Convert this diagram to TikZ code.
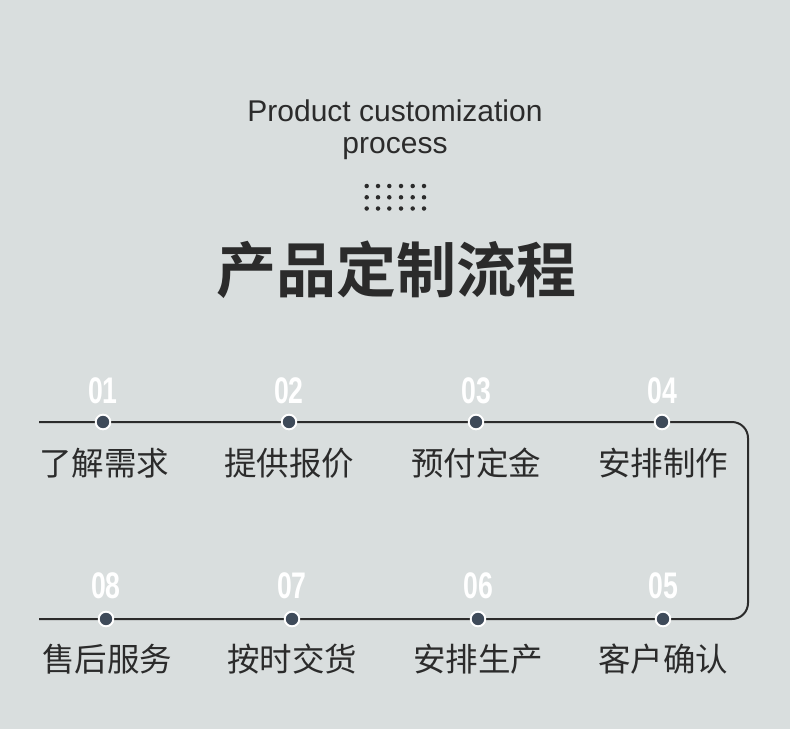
\documentclass[tikz,border=0pt]{standalone}
\usepackage{fontspec}
\setmainfont{Liberation Sans}
\newfontfamily\cjk{Noto Sans CJK SC}
\newfontfamily\cjkb{Noto Sans CJK SC Bold}
\definecolor{bgc}{HTML}{D9DEDE}
\definecolor{ink}{HTML}{2B2B2B}
\definecolor{dotc}{HTML}{3E4A59}
\begin{document}
\begin{tikzpicture}[x=1pt,y=-1pt,
  stepdot/.style={circle,fill=dotc,draw=white,line width=1.8pt,minimum size=14.5pt,inner sep=0pt},
  numlbl/.style={text=white,inner sep=0pt,font=\fontsize{37}{37}\selectfont\bfseries},
  steplbl/.style={text=ink,inner sep=0pt,font=\cjk\fontsize{32.5}{32.5}\selectfont},
  gdot/.style={circle,fill=ink,inner sep=0pt,minimum size=4.5pt},
  flow/.style={draw=ink,line width=2pt,rounded corners=16pt}]
\fill[bgc] (0,0) rectangle (790,729);
\useasboundingbox (0,0) rectangle (790,729);
% headings
\node[text=ink,inner sep=0pt,align=center,font=\fontsize{30}{31.5}\selectfont] (en) at (395,129.5) {Product customization\\process};
\foreach \i/\x in {1/366.7,2/378,3/389.3,4/401,5/412.7,6/424}{
  \foreach \j/\y in {1/186,2/197.3,3/208.5}{
    \node[gdot] (g\i\j) at (\x,\y) {};
  }
}
\node[text=ink,inner sep=0pt,font=\cjkb\fontsize{60}{60}\selectfont] (title) at (396,270) {产品定制流程};
% flow line
\coordinate (s1) at (39,422);
\coordinate (s2) at (39,619);
\coordinate (c1) at (748,422);
\coordinate (c2) at (748,619);
\node[stepdot] (d1) at (103,422) {};
\node[stepdot] (d2) at (289,422) {};
\node[stepdot] (d3) at (476,422) {};
\node[stepdot] (d4) at (662,422) {};
\node[stepdot] (d5) at (663,619) {};
\node[stepdot] (d6) at (478,619) {};
\node[stepdot] (d7) at (292,619) {};
\node[stepdot] (d8) at (106,619) {};
\draw[flow] (s1) -- (d1.center) -- (d2.center) -- (d3.center) -- (d4.center) -- (c1) -- (c2) -- (d5.center) -- (d6.center) -- (d7.center) -- (d8.center) -- (s2);
\foreach \x/\y in {103/422,289/422,476/422,662/422,663/619,478/619,292/619,106/619}{
  \node[stepdot] at (\x,\y) {};
}
% numbers
\node[numlbl] (n1) at (103,391) {\scalebox{0.72}[1]{01}};
\node[numlbl] (n2) at (289,391) {\scalebox{0.72}[1]{02}};
\node[numlbl] (n3) at (476,391) {\scalebox{0.72}[1]{03}};
\node[numlbl] (n4) at (662,391) {\scalebox{0.72}[1]{04}};
\node[numlbl] (n5) at (663,586) {\scalebox{0.72}[1]{05}};
\node[numlbl] (n6) at (478,586) {\scalebox{0.72}[1]{06}};
\node[numlbl] (n7) at (292,586) {\scalebox{0.72}[1]{07}};
\node[numlbl] (n8) at (106,586) {\scalebox{0.72}[1]{08}};
% labels
\node[steplbl] (l1) at (104,463) {了解需求};
\node[steplbl] (l2) at (289,463) {提供报价};
\node[steplbl] (l3) at (476,463) {预付定金};
\node[steplbl] (l4) at (663,463) {安排制作};
\node[steplbl] (l5) at (663,659) {客户确认};
\node[steplbl] (l6) at (478,659) {安排生产};
\node[steplbl] (l7) at (292,659) {按时交货};
\node[steplbl] (l8) at (107,659) {售后服务};
\end{tikzpicture}
\end{document}
